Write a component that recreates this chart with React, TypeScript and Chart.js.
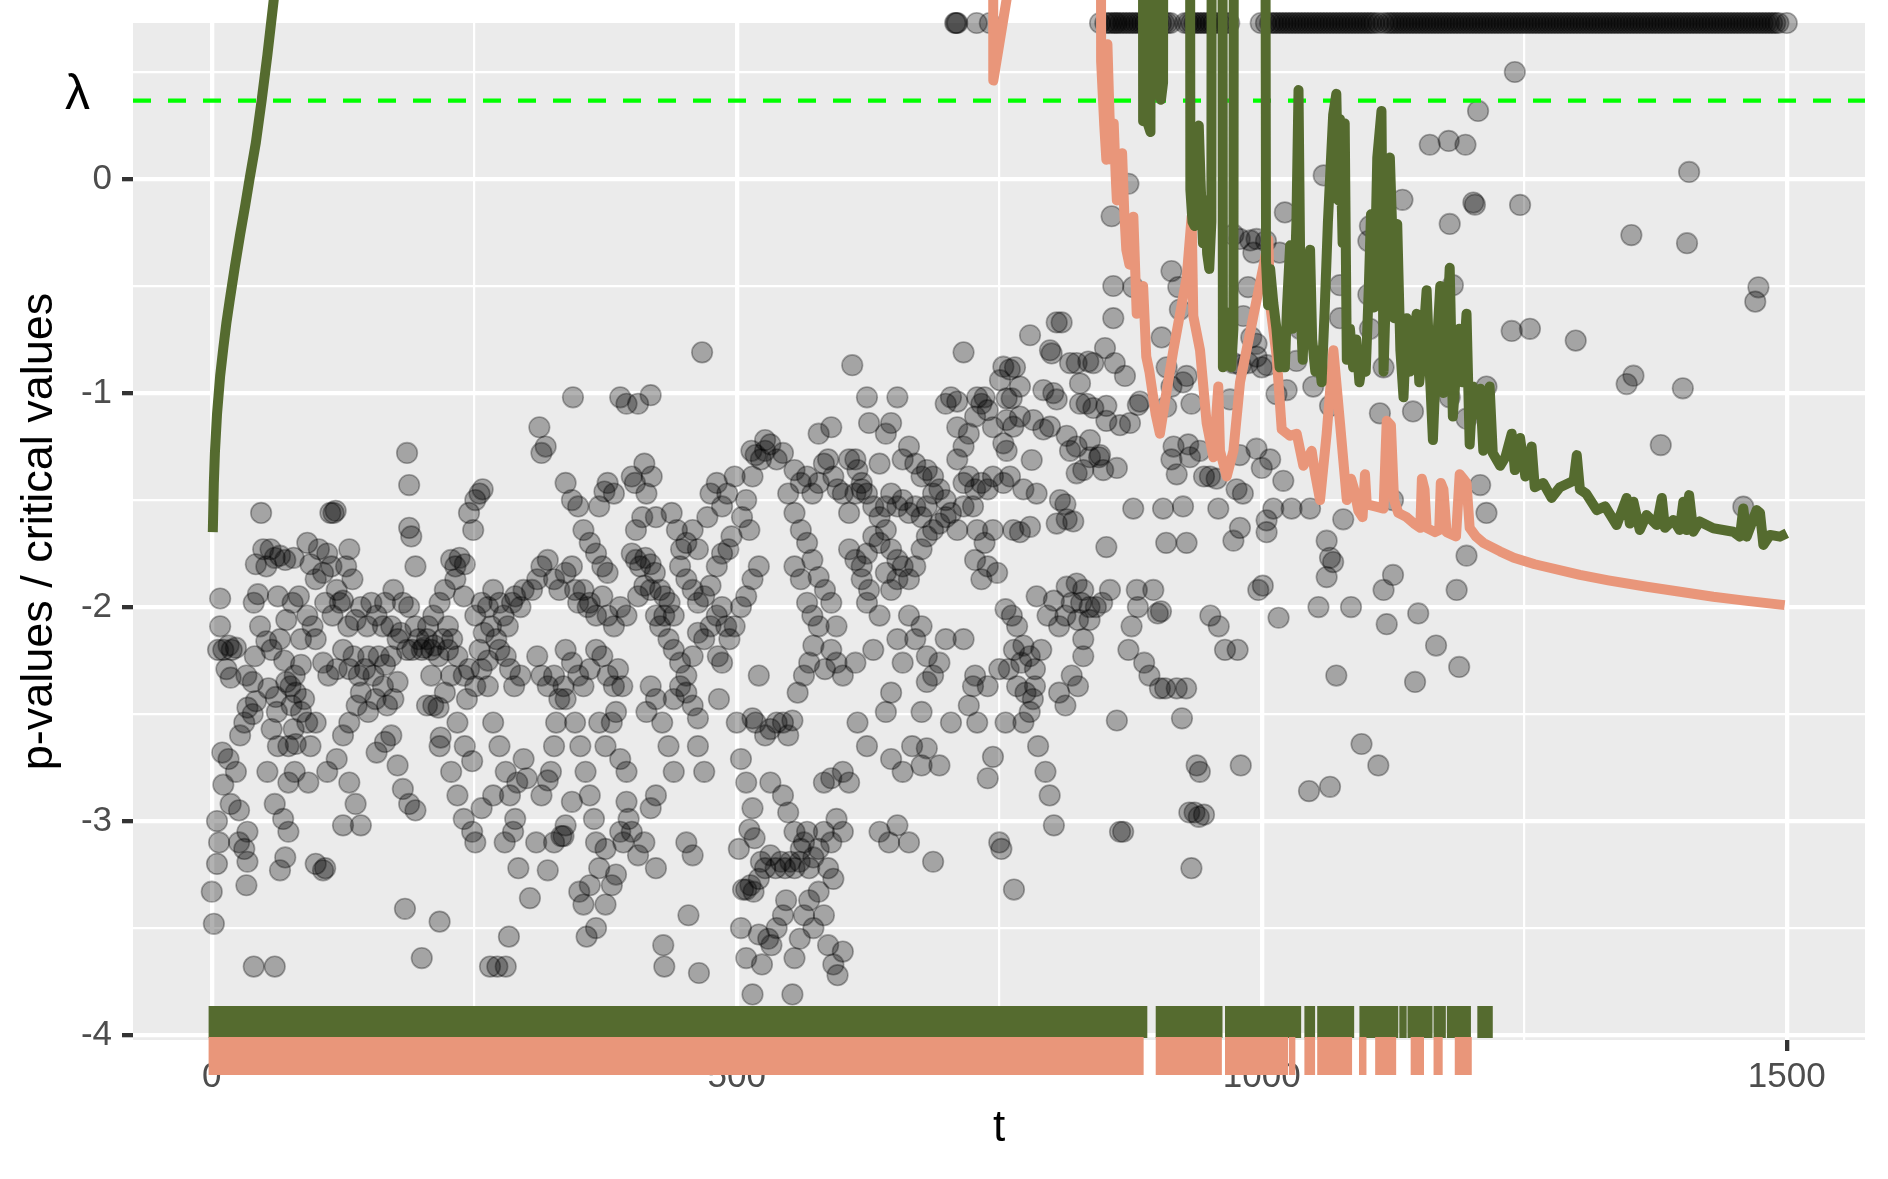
import React, { useEffect, useRef } from 'react';
import { Chart, registerables } from 'chart.js';
Chart.register(...registerables);

const W = 1888;
const H = 1179;
const FONT = '"Liberation Sans", Arial, Helvetica, sans-serif';

// axes
const X_MIN = -75;
const X_MAX = 1574.5;
const Y_MIN = -4.023;
const Y_MAX = 0.729;
const xTickValues = [0, 250, 500, 750, 1000, 1250, 1500];
const xTickLabels = [0, 500, 1000, 1500];
const yTickValues = [-4, -3.5, -3, -2.5, -2, -1.5, -1, -0.5, 0, 0.5];
const yTickLabels = [-4, -3, -2, -1, 0];
const lambdaLevel = 0.366;
const topLevel = 0.729; // p-values drawn on the upper edge

// p-values (t, value)
const pointsA: [number, number][] = [
  [0,-3.33],[2,-3.48],[5,-3.2],[7,-3.1],[5,-3.0],[11,-2.83],[10,-2.68],[16,-2.71],[8,-2.09],[6,-2.2],[8,-1.96],[11,-2.2],[16,-2.18],[19,-2.2],[23,-2.19],[14,-2.29],[18,-2.33],[23,-2.77],[18,-2.92],[26,-2.95],[26,-3.1],[31,-3.13],[34,-3.05],[33,-3.3],[34,-3.19],[40,-3.68],[60,-3.68],[27,-2.6],[31,-2.54],[34,-2.47],[39,-2.5],[33,-2.32],[39,-2.35],[41,-2.23],[40,-1.98],[44,-1.94],[47,-1.56],[49,-1.73],[42,-1.8],[52,-1.81],[56,-1.73],[60,-1.77],[46,-2.09],[52,-2.16],[57,-2.2],[54,-2.38],[61,-2.42],[57,-2.57],[63,-2.65],[60,-2.92],[53,-2.77],[42,-2.44],[65,-3.23],[70,-3.17],[73,-3.05],[73,-2.82],[79,-2.77],[73,-2.65],[78,-2.57],[76,-2.46],[71,-2.35],[69,-2.25],[75,-2.37],[79,-2.32],[85,-2.27],[88,-2.43],[80,-2.4],[85,-2.49],[91,-2.54],[65,-2.15],[71,-2.06],[77,-1.98],[83,-1.95],[91,-1.7],[94,-1.8],[99,-1.87],[91,-2.04],[96,-2.09],[99,-2.15],[85,-2.15],[78,-1.77],[65,-1.76],[70,-1.78],[63,-1.95],[92,-2.82],[94,-2.65],[99,-2.54],[99,-3.2],[108,-3.22],[68,-2.99],[62,-2.49],[80,-2.64],
  [113,-1.56],[116,-1.56],[118,-1.55],[102,-1.73],[106,-1.84],[110,-1.75],[114,-1.81],[119,-1.92],[125,-1.97],[128,-1.81],[131,-1.73],[134,-1.87],[108,-1.98],[115,-2.04],[122,-1.98],[130,-2.09],[137,-2.06],[142,-2.0],[148,-2.09],[106,-2.26],[111,-2.32],[119,-2.29],[125,-2.2],[131,-2.29],[135,-2.23],[140,-2.32],[146,-2.29],[149,-2.23],[154,-2.32],[159,-2.23],[165,-2.27],[171,-2.23],[142,-2.4],[149,-2.49],[156,-2.43],[163,-2.37],[167,-2.46],[173,-2.43],[177,-2.35],[138,-2.46],[131,-2.54],[125,-2.6],[119,-2.71],[110,-2.77],[131,-2.82],[137,-2.92],[142,-3.02],[125,-3.02],[106,-3.23],[163,-2.09],[171,-2.09],[177,-2.15],[157,-2.04],[152,-1.98],[165,-1.98],[173,-1.92],[182,-1.98],[188,-2.0],[194,-2.09],[197,-2.15],[191,-2.2],[186,-2.2],[180,-2.12],[200,-2.2],[188,-1.63],[190,-1.67],[194,-1.81],[186,-1.28],[188,-1.43],[177,-2.74],[182,-2.85],[188,-2.92],[194,-2.95],[184,-3.41],[200,-3.64],[217,-3.47],[165,-2.63],[171,-2.6],[157,-2.68],
  [202,-2.19],[205,-2.15],[209,-2.2],[212,-2.18],[216,-2.23],[220,-2.15],[225,-2.2],[206,-2.09],[211,-2.04],[217,-1.98],[222,-1.92],[228,-1.78],[232,-1.81],[236,-1.77],[241,-1.8],[232,-1.87],[240,-1.95],[225,-2.09],[229,-2.15],[234,-2.23],[240,-2.32],[245,-2.29],[243,-2.43],[234,-2.54],[241,-2.65],[248,-2.72],[222,-2.4],[216,-2.47],[209,-2.32],[211,-2.46],[218,-2.61],[228,-2.32],[217,-2.65],[228,-2.77],[234,-2.88],[240,-2.99],[248,-3.05],[205,-2.46],[245,-1.56],[249,-1.64]
];

const pointsB: [number, number][] = [
  [251,-2.37],[255,-2.2],[259,-2.12],[251,-2.04],[257,-1.98],[263,-2.0],[266,-2.09],[271,-2.15],[255,-1.47],[258,-1.45],[251,-1.5],[268,-1.92],[274,-1.98],[278,-2.04],[282,-2.09],[286,-1.98],[289,-1.95],[294,-2.0],[297,-1.92],[274,-2.2],[280,-2.23],[284,-2.29],[288,-2.37],[294,-2.32],[263,-2.37],[268,-2.54],[274,-2.65],[280,-2.77],[284,-2.88],[289,-2.99],[279,-3.1],[287,-3.05],[292,-3.22],[268,-2.88],[265,-3.68],[272,-3.68],[280,-3.68],[283,-3.54],[297,-2.71],[300,-2.8],[291,-2.82],[251,-3.1],[257,-2.94],[257,-2.29],[263,-2.25],
  [303,-3.36],[309,-3.1],[314,-2.88],[320,-2.81],[323,-2.77],[326,-2.65],[328,-2.54],[331,-2.43],[335,-2.37],[310,-2.23],[314,-2.32],[320,-2.37],[326,-2.32],[305,-1.92],[310,-1.87],[314,-1.81],[320,-1.78],[326,-1.87],[331,-1.92],[337,-1.84],[343,-1.81],[346,-1.92],[349,-1.98],[354,-1.92],[358,-2.0],[312,-1.16],[314,-1.28],[318,-1.25],[344,-1.02],[337,-1.42],[343,-1.5],[349,-1.53],[354,-1.64],[360,-1.7],[366,-1.75],[372,-1.81],[377,-1.84],[369,-1.53],[374,-1.46],[377,-1.42],[383,-1.47],[389,-1.02],[395,-1.05],[400,-1.39],[360,-1.98],[366,-2.04],[372,-1.95],[377,-2.04],[383,-2.09],[389,-2.0],[395,-2.04],[337,-2.2],[343,-2.26],[349,-2.32],[354,-2.37],[360,-2.29],[366,-2.2],[372,-2.23],[369,-2.54],[375,-2.65],[381,-2.54],[385,-2.49],[389,-2.71],[395,-2.77],[337,-2.43],[346,-2.54],[351,-2.65],[356,-2.77],[360,-2.88],[364,-2.99],[366,-3.1],[369,-3.22],[375,-3.13],[381,-3.3],[385,-3.25],[360,-3.3],[354,-3.39],[350,-3.33],[357,-3.54],[366,-3.5],[375,-3.39],[335,-3.07],[333,-3.07],[337,-3.02],[343,-2.91],[326,-3.1],[320,-3.23],[389,-3.05],[395,-2.91],[397,-2.99],[392,-3.1],[377,-2.32],[383,-2.37],[387,-2.29],[391,-2.37],
  [400,-1.75],[404,-1.78],[408,-1.81],[413,-1.77],[418,-1.8],[422,-1.84],[427,-1.92],[431,-1.95],[436,-1.98],[440,-2.04],[418,-1.92],[412,-1.9],[406,-1.95],[423,-2.04],[427,-2.09],[431,-2.04],[435,-2.15],[404,-1.64],[410,-1.58],[414,-1.47],[419,-1.39],[412,-1.33],[406,-1.05],[418,-1.01],[403,-1.42],[423,-1.58],[438,-1.56],[443,-1.64],[447,-1.73],[452,-1.7],[458,-1.64],[463,-1.73],[446,-1.81],[452,-1.87],[458,-1.92],[463,-1.98],[469,-1.95],[475,-1.9],[481,-1.81],[486,-1.75],[492,-1.73],[495,-1.67],[467,-0.81],[475,-1.47],[481,-1.42],[486,-1.53],[491,-1.47],[498,-1.39],[472,-1.58],[440,-2.2],[446,-2.26],[452,-2.32],[458,-2.23],[463,-2.12],[469,-2.15],[475,-2.09],[481,-2.04],[486,-2.0],[490,-2.09],[493,-2.15],[498,-2.09],[440,-2.43],[446,-2.37],[452,-2.4],[458,-2.46],[463,-2.52],[423,-2.43],[418,-2.37],[414,-2.49],[429,-2.54],[435,-2.65],[440,-2.77],[483,-2.43],[486,-2.26],[482,-2.23],[418,-2.94],[423,-2.88],[452,-3.1],[458,-3.16],[454,-3.44],[430,-3.58],[431,-3.68],[464,-3.71],[423,-3.22],[412,-3.1],[406,-3.16],[400,-3.05],[463,-2.65],[469,-2.77]
];

const pointsC: [number, number][] = [
  [502,-3.13],[506,-3.32],[509,-3.32],[513,-3.3],[516,-3.33],[521,-3.27],[504,-3.5],[509,-3.64],[515,-3.81],[521,-3.53],[524,-3.67],[530,-3.55],[533,-3.58],[538,-3.5],[544,-3.44],[547,-3.37],[553,-3.81],[555,-3.64],[560,-3.55],[564,-3.44],[569,-3.37],[573,-3.5],[578,-3.33],[583,-3.44],[587,-3.58],[592,-3.67],[596,-3.72],[601,-3.61],[512,-3.04],[517,-3.08],[523,-3.19],[527,-3.22],[532,-3.16],[537,-3.22],[542,-3.19],[546,-3.22],[551,-3.19],[555,-3.22],[560,-3.19],[564,-3.1],[569,-3.22],[573,-3.17],[578,-3.13],[583,-3.05],[587,-3.22],[592,-3.27],[590,-3.1],[595,-2.99],[601,-3.05],[518,-2.54],[515,-2.52],[521,-2.32],[527,-2.6],[532,-2.57],[538,-2.54],[544,-2.54],[549,-2.6],[553,-2.53],[558,-2.4],[564,-2.32],[569,-2.26],[573,-2.18],[578,-2.09],[584,-2.29],[590,-2.2],[595,-2.26],[601,-2.32],[613,-2.26],[583,-2.82],[590,-2.8],[601,-2.77],[607,-2.82],[615,-2.54],[504,-2.0],[509,-1.95],[515,-1.87],[521,-1.81],[512,-1.64],[505,-1.58],[509,-1.5],[515,-1.39],[518,-1.29],[514,-1.27],[523,-1.31],[527,-1.27],[532,-1.24],[527,-1.22],[538,-1.31],[544,-1.28],[549,-1.47],[555,-1.56],[561,-1.64],[567,-1.7],[572,-1.78],[578,-1.86],[584,-1.92],[590,-1.98],[595,-2.09],[555,-1.81],[561,-1.87],[567,-1.98],[572,-2.04],[555,-1.36],[561,-1.42],[567,-1.39],[572,-1.47],[578,-1.42],[583,-1.33],[587,-1.31],[592,-1.39],[596,-1.45],[601,-1.47],[578,-1.19],[590,-1.16],[607,-1.31],[610,-0.87],[615,-1.36],[619,-1.45],[624,-1.02],[626,-1.14],[504,-2.71],[509,-2.82],[515,-2.94],[500,-2.54],[532,-2.82],[544,-2.88],[549,-2.96],[555,-3.05],[561,-3.13],[567,-3.05],[624,-2.65],[636,-3.05],[645,-3.1],
  [607,-1.56],[613,-1.47],[619,-1.42],[624,-1.47],[630,-1.53],[636,-1.58],[642,-1.53],[647,-1.47],[653,-1.53],[658,-1.5],[664,-1.56],[670,-1.53],[676,-1.58],[681,-1.53],[687,-1.47],[693,-1.45],[699,-1.5],[607,-1.73],[613,-1.78],[619,-1.81],[624,-1.75],[630,-1.67],[636,-1.7],[642,-1.64],[647,-1.73],[653,-1.78],[658,-1.81],[664,-1.87],[670,-1.81],[676,-1.73],[681,-1.67],[687,-1.64],[693,-1.61],[699,-1.58],[619,-1.87],[626,-1.92],[642,-1.84],[647,-1.92],[653,-1.87],[613,-1.31],[636,-1.33],[642,-1.19],[647,-1.14],[653,-1.02],[658,-1.31],[664,-1.25],[670,-1.33],[676,-1.39],[681,-1.36],[687,-1.39],[699,-1.05],[704,-1.02],[710,-1.04],[716,-0.81],[710,-1.16],[670,-2.15],[664,-2.04],[676,-2.09],[681,-2.23],[687,-2.32],[693,-2.26],[699,-2.15],[658,-2.26],[653,-2.15],[647,-2.4],[642,-2.49],[676,-2.49],[681,-2.35],[667,-2.65],[676,-2.74],[647,-2.71],[658,-2.77],[653,-3.02],[664,-3.1],[687,-3.19],[681,-2.66],[704,-2.54],[693,-2.74],[624,-1.98],[636,-2.04],[630,-2.2],
  [710,-1.31],[716,-1.25],[721,-1.19],[727,-1.11],[733,-1.05],[729,-1.02],[736,-1.02],[739,-1.08],[744,-1.16],[716,-1.42],[721,-1.39],[727,-1.45],[733,-1.42],[739,-1.45],[744,-1.39],[704,-1.56],[710,-1.64],[716,-1.53],[725,-1.53],[729,-1.64],[736,-1.7],[744,-1.64],[727,-1.78],[733,-1.87],[739,-1.81],[748,-1.84],[739,-2.37],[725,-2.37],[721,-2.46],[739,-2.8],[744,-2.7],[716,-2.15],[727,-2.32],[729,-2.54]
];

const pointsD: [number, number][] = [
  [756,-2.01],[762,-2.04],[767,-2.09],[773,-2.18],[779,-2.23],[784,-2.29],[764,-2.2],[771,-2.26],[759,-2.29],[767,-2.37],[775,-2.4],[782,-2.43],[773,-2.54],[779,-2.49],[787,-2.65],[794,-2.77],[798,-2.88],[802,-3.02],[750,-2.29],[750,-3.1],[752,-3.13],[764,-3.32],[756,-2.54],[784,-2.37],[790,-2.2],[796,-2.04],[802,-1.97],
  [807,-2.09],[813,-2.04],[819,-1.98],[825,-2.06],[830,-2.15],[836,-2.06],[807,-2.4],[813,-2.46],[819,-2.32],[825,-2.37],[830,-2.23],[836,-2.0],[842,-2.0],[848,-1.98],[862,-2.53],[865,-3.05],[868,-3.05],[901,-2.03],[904,-2.02],[903,-2.38],[908,-2.38],[876,-2.09],[882,-2.0],[873,-2.2],[888,-2.26],[893,-2.32],[828,-1.98],
  [977,-2.2],[965,-2.2],[931,-2.96],[936,-2.96],[940,-2.98],[945,-2.97],[933,-3.22],[938,-2.74],[941,-2.77],[980,-2.74],[924,-2.52],[919,-2.38],[928,-2.38],[951,-2.04],[959,-2.09],
  [1016,-2.05],[1045,-2.86],[1065,-2.84],[1071,-2.32],[1054,-2.0],[1085,-2.0],[1095,-2.64],[1111,-2.74],[1119,-2.08],[1146,-2.35],[1149,-2.03],[1166,-2.18],[1188,-2.28],
  [804.7,-0.67],[809.4,-0.67],[779.3,-0.73],[798.3,-0.8],[799.9,-0.815],[817.4,-0.86],[823.7,-0.86],[834.8,-0.853],[839.6,-0.86],[753.9,-0.877],[760,-0.89],[765,-0.88],[750.7,-0.94],[769.7,-0.97],[757,-1.025],[761.8,-1.025],[792,-0.986],[801.5,-1.0],[804.7,-1.03],[826.9,-0.955],[833.2,-1.05],[826.9,-1.05],[839.6,-1.07],[757,-1.126],[763.4,-1.157],[769.7,-1.11],[782.4,-1.126],[792,-1.17],[798.3,-1.157],[814.2,-1.2],[823.7,-1.25],[836.4,-1.22],[757,-1.27],[753.9,-1.235],[780.9,-1.313],[817.4,-1.27],[830,-1.36],[823.7,-1.375],[836.4,-1.3],[845,-1.3],[760.2,-1.39],[753.9,-1.42],[773,-1.45],[785.6,-1.47],[807.8,-1.5],[813,-1.52],[763.4,-1.64],[769.7,-1.65],[779.3,-1.625],[804.7,-1.61],[814.2,-1.59],[820.5,-1.6],[814.2,-1.905],[823.7,-1.89],[785.6,-1.95],[830,-1.92],
  [1206,0.318],[1160,0.16],[1178,0.178],[1194,0.16],[1201.5,-0.11],[1203,-0.12],[1134,-0.097],[1059,0.017],[1179,-0.21],[1103,-0.22],[1101.5,-0.29],[873,-0.022],[857,-0.174],[1022,-0.156],[989,-0.287],[979,-0.28],[995,-0.28],[1004,-0.29],[973,-0.26],[992,-0.344],[1017,-0.344],[914,-0.43],[858.6,-0.5],[877.6,-0.505],[920.5,-0.505],[987,-0.505],[1074.5,-0.496],[1101.5,-0.54],[1182,-0.496],[858.6,-0.65],[904.6,-0.74],[922,-0.61],[982.4,-0.64],[990,-0.74],[995,-0.77],[1074.5,-0.65],[1103,-0.7],[1036.4,-0.7],[850.7,-0.79],[860,-0.86],[869.7,-0.92],[909.4,-0.88],[928.4,-0.92],[914,-0.97],[925,-0.95],[995,-0.83],[973,-0.86],[980,-0.87],[987,-0.86],[1000,-0.88],[1005,-0.87],[1014,-1.005],[1033,-0.85],[1049,-0.97],[1065,-1.06],[1112.5,-1.095],[1116,-0.88],[1144,-1.086],[1179,-1.02],[1204.6,-1.02],[1195,-1.12],[1214,-0.97],[852,-1.06],[884,-1.04],[852,-1.13],[865,-1.15],[874.5,-1.14],[846,-1.29],[862,-1.35],[849,-1.36],[916,-1.25],[914,-1.31],[919,-1.38],[930,-1.24],[931.6,-1.3],[941,-1.27],[945,-1.39],[950.6,-1.39],[957,-1.4],[976,-1.45],[982,-1.47],[979,-1.29],[995,-1.26],[1008,-1.31],[1000,-1.35],[1020.5,-1.41],[1011,-1.54],[1028.4,-1.54],[1046,-1.54],[1077.6,-1.59],[1004.6,-1.595],[1004.6,-1.65],[1061.8,-1.69],[1068,-1.79],[1065,-1.77],[1061.8,-1.86],[1125,-1.5],[1208,-1.43],[1214,-1.56],[1195,-1.76],[1185.6,-1.92],[1125,-1.85],[1116,-1.92],[996.7,-1.92],[1001,-1.9],[909,-1.7],[928.4,-1.7],[877.6,-1.54],[906,-1.54],[925,-1.53],[958.6,-1.54],[979.2,-1.63],[973,-1.69],[852,-1.72],[881,-1.92],[896.7,-1.92],[855.4,-1.92],
  [933,-1.05],[882,-1.056],[909,-1.064],[969.8,-1.03],[1023.7,-0.986]
];

const pointsE: [number, number][] = [
  [1246,-0.121],[1352,-0.262],[1405,-0.3],[1473,-0.506],[1470,-0.573],[1238,-0.71],[1255.4,-0.7],[1299,-0.755],[1354,-0.919],[1347.5,-0.958],[1401,-0.978],[1380,-1.243],[1458.6,-1.531],[1241,0.5],[1407,0.033]
];

// t of p-values shown on the upper edge
const topRowT: number[] = [
  708,709,710,728.5,741,846,851,854,857,860,862,865,868,871,874,877,880,883,886,889,892,895,898,901,904,907,910,913,
  927,930,933,936,939,942,945,948,951,954,957,960,963,966,969,
  999,1004,1008,1011,1014,1017,1020,1023,1026,1029,1032,1035,1038,1041,1044,1047,1050,1053,1056,1059,1062,1065,1068,1071,1074,1077,1080,1083,1086,1089,1092,1095,1098,1101,1104,1107,1111,1116,1120,1123,1126,1129,1132,1135,1138,1141,1144,1147,1150,1153,1156,1159,1162,1165,1168,1171,1174,1177,1180,1183,1186,1189,1192,1195,1198,1201,1204,1207,1210,1213,1216,1219,1222,1225,1228,1231,1234,1237,1240,1243,1246,1249,1252,1255,1258,1261,1264,1267,1270,1273,1276,1279,1282,1285,1288,1291,1294,1297,1300,1303,1306,1309,1312,1315,1318,1321,1324,1327,1330,1333,1336,1339,1342,1345,1348,1351,1354,1357,1360,1363,1366,1369,1372,1375,1378,1381,1384,1387,1390,1393,1396,1399,1402,1405,1408,1411,1414,1417,1420,1423,1426,1429,1432,1435,1438,1441,1444,1447,1450,1453,1456,1459,1462,1465,1468,1471,1474,1477,1480,1483,1486,1489,1492,1500
];

// critical value curves (t, value); 10 = far above the panel
const greenCurve: [number, number][] = [
  [1,-1.65],[2,-1.42],[3,-1.28],[5,-1.1],[8,-0.92],[11,-0.79],[14,-0.67],[17,-0.57],[22,-0.41],[27,-0.26],[32,-0.12],[36,0.0],[42,0.17],[47.5,0.367],[53,0.58],[59,0.836],[65,1.1],[75,1.6],[100,3],[130,10],[880,10],
  [886,10],[887,0.27],[889,0.3],[890,0.43],[892,0.25],[894,0.22],[896,10],[900,10],[902,0.4],[904,0.37],[906,0.45],[908,10],[930,10],
  [932,-0.05],[934,-0.2],[936,-0.22],[938,-0.1],[940,0.25],[942,-0.05],[944,-0.3],[946,-0.1],[948,-0.35],[950,-0.42],[952,-0.2],[954,10],[961,10],
  [963,-0.88],[965,-0.62],[967,-0.8],[969,-0.65],[971,-0.88],[973,-0.7],[975,10],[1001,10],
  [1004,-0.38],[1006,-0.59],[1008,-0.42],[1011,-0.58],[1014,-0.7],[1017,-0.88],[1020,-0.75],[1022,-0.88],[1024,-0.6],[1027,-0.31],[1029,-0.7],[1031,-0.55],[1033,-0.2],[1035,0.416],[1037,-0.6],[1039,-0.845],[1041,-0.55],[1044,-0.7],[1046,-0.33],[1048,-0.75],[1051,-0.9],[1054,-0.8],[1057,-0.95],[1060,-0.6],[1063,-0.2],[1066,0.1],[1068,0.3],[1071,0.398],[1073,-0.1],[1074.5,0.28],[1077,-0.3],[1079,0.26],[1081,-0.845],[1084,-0.7],[1087,-0.88],[1090,-0.75],[1093,-0.95],[1096,-0.85],[1099,-0.9],[1102,-0.5],[1104,-0.165],[1107,-0.6],[1110,0.1],[1114,0.318],[1116,-0.9],[1119,-0.4],[1122,0.1],[1124,-0.2],[1126,-0.65],[1129,-0.21],[1132,-0.8],[1135,-1.02],[1138,-0.65],[1141,-0.9],[1144,-0.75],[1147.5,-0.63],[1150,-0.95],[1153,-0.8],[1157,-0.52],[1160,-0.9],[1163,-1.22],[1166,-0.85],[1170,-0.5],[1173,-1.0],[1176,-0.75],[1179,-0.415],[1182,-1.11],[1185,-0.9],[1188,-0.7],[1191,-0.95],[1195,-0.63],[1198,-1.24],[1201,-0.97],[1204,-1.1],[1208,-0.98],[1211,-1.27],[1214,-1.25],[1217,-0.97],[1220,-1.28],[1227,-1.34],
  [1232,-1.3],[1238,-1.19],[1241,-1.36],[1246,-1.21],[1251,-1.39],[1257,-1.25],[1260,-1.44],[1268,-1.42],[1276,-1.49],[1284,-1.44],[1297,-1.41],[1300,-1.29],[1303,-1.45],[1309,-1.47],[1319,-1.547],[1327,-1.53],[1338,-1.617],[1347.5,-1.49],[1350.5,-1.61],[1354,-1.508],[1360,-1.64],[1366.5,-1.57],[1376,-1.617],[1381,-1.49],[1384,-1.63],[1392,-1.593],[1398,-1.64],[1401.5,-1.508],[1404.5,-1.64],[1407,-1.477],[1411,-1.648],[1417,-1.6],[1430,-1.632],[1449,-1.648],[1455.4,-1.671],[1458.6,-1.539],[1461.8,-1.671],[1471.3,-1.547],[1474.5,-1.56],[1477.7,-1.71],[1484,-1.663],[1493.5,-1.671],[1500,-1.655]
];

const salmonCurve: [number, number][] = [
  [730,10],[743,10],[744.3,0.46],[750,0.63],[757,0.84],[765,1.5],[790,10],[845,10],
  [847,0.55],[850,0.25],[852,0.09],[853,0.63],[855,0.3],[857,0.09],[859,0.26],[861,0.0],[862,-0.1],[867,0.12],[869,-0.15],[871,-0.33],[874,-0.4],[877.7,-0.176],[880.9,-0.63],[884,-0.55],[887,-0.5],[890,-0.83],[893,-0.9],[896,-1.0],[899,-1.1],[903,-1.19],
  [909.4,-0.99],[915.8,-0.8],[928.5,-0.46],[933.2,-0.176],[934.8,-0.64],[941.2,-0.8],[947.5,-1.14],[953.9,-1.3],[958.6,-0.97],[960.2,-1.27],[966.6,-1.39],[973,-1.27],[979.3,-0.95],[992,-0.64],[1001.5,-0.41],[1006.3,-0.285],[1007.8,-0.58],[1014.2,-0.83],[1019,-1.17],[1026.9,-1.2],[1033.3,-1.19],[1039.6,-1.34],[1047.5,-1.27],[1050.7,-1.375],[1055.5,-1.5],[1061.8,-1.19],[1068.2,-0.8],[1074.5,-1.14],[1081,-1.5],
  [1085,-1.4],[1088,-1.45],[1092,-1.55],[1096,-1.58],[1098.3,-1.38],[1100,-1.52],[1108,-1.53],[1116,-1.54],[1119,-1.13],[1123,-1.15],[1126,-1.5],[1130,-1.56],[1138,-1.58],[1145,-1.61],[1151,-1.63],[1152.5,-1.4],[1155,-1.45],[1157,-1.63],[1165,-1.65],[1169,-1.64],[1170.5,-1.42],[1173,-1.45],[1176,-1.65],[1185,-1.67],[1188.5,-1.38],[1192,-1.4],[1195,-1.42],[1198,-1.63],[1204,-1.67],[1211,-1.7],[1227,-1.74],[1240,-1.77],[1260,-1.8],[1303,-1.85],[1330,-1.875],[1366.6,-1.905],[1400,-1.93],[1430,-1.952],[1460,-1.97],[1498,-1.991]
];

// rejection rugs: runs of t (start, end)
const greenRug: [number, number][] = [
  [-3,891],[899,962.6],[965,1037.5],[1040.6,1050.8],[1052.8,1088],[1093,1130],[1131,1138],[1138.8,1162.6],[1163.6,1175.3],[1176.3,1199.2],[1205.3,1220]
];
const salmonRug: [number, number][] = [
  [-3,887.5],[899,962],[965,1025],[1025.8,1032],[1040.6,1050.8],[1052.8,1086],[1092.6,1099.7],[1108,1128],[1141.8,1154.5],[1163.6,1172.3],[1183.8,1200]
];

const GREEN = '#556B2F';
const SALMON = '#E9967A';
const GREEN_RUG_Y = -3.939;
const SALMON_RUG_Y = -4.098;

const toXY = (arr: [number, number][]) => arr.map(([x, y]) => ({ x, y }));
const rugXY = (runs: [number, number][], level: number) =>
  runs.flatMap(([a, b]) => [{ x: a, y: level }, { x: b, y: level }, { x: b, y: null as any }]);

const panelBg = {
  id: 'panelBg',
  beforeDraw(chart: any) {
    const { ctx, chartArea } = chart;
    ctx.save();
    ctx.fillStyle = '#FFFFFF';
    ctx.fillRect(0, 0, chart.width, chart.height);
    ctx.fillStyle = '#EBEBEB';
    ctx.fillRect(chartArea.left, chartArea.top, chartArea.right - chartArea.left, chartArea.bottom - chartArea.top);
    ctx.restore();
  },
};

const lambdaLabel = {
  id: 'lambdaLabel',
  afterDraw(chart: any) {
    const { ctx, chartArea } = chart;
    const y = chart.scales.y.getPixelForValue(lambdaLevel);
    ctx.save();
    ctx.fillStyle = '#000000';
    ctx.font = `50px ${FONT}`;
    ctx.textAlign = 'center';
    ctx.textBaseline = 'alphabetic';
    ctx.fillText('λ', chartArea.left - 55.5, y + 8);
    ctx.restore();
  },
};

export default function App() {
  const ref = useRef<HTMLCanvasElement | null>(null);

  useEffect(() => {
    if (!ref.current) return;
    const allPoints = [...pointsA, ...pointsB, ...pointsC, ...pointsD, ...pointsE];
    const topPoints = topRowT.map((t) => ({ x: t, y: topLevel }));

    const chart = new Chart(ref.current, {
      type: 'scatter',
      data: {
        datasets: [
          {
            type: 'line',
            data: rugXY(salmonRug, SALMON_RUG_Y),
            borderColor: SALMON,
            borderWidth: 38,
            borderCapStyle: 'butt',
            pointRadius: 0,
            spanGaps: false,
            clip: false,
            order: 0,
          } as any,
          {
            type: 'line',
            data: rugXY(greenRug, GREEN_RUG_Y),
            borderColor: GREEN,
            borderWidth: 32,
            borderCapStyle: 'butt',
            pointRadius: 0,
            spanGaps: false,
            clip: false,
            order: 1,
          } as any,
          {
            type: 'line',
            data: toXY(greenCurve),
            borderColor: GREEN,
            borderWidth: 10,
            borderJoinStyle: 'round',
            pointRadius: 0,
            tension: 0,
            clip: false,
            order: 2,
          } as any,
          {
            type: 'line',
            data: toXY(salmonCurve),
            borderColor: SALMON,
            borderWidth: 10,
            borderJoinStyle: 'round',
            pointRadius: 0,
            tension: 0,
            clip: false,
            order: 3,
          } as any,
          {
            type: 'line',
            data: [{ x: X_MIN, y: lambdaLevel }, { x: X_MAX, y: lambdaLevel }],
            borderColor: '#00FF00',
            borderWidth: 4.3,
            borderDash: [18, 17],
            pointRadius: 0,
            clip: false,
            order: 4,
          } as any,
          {
            type: 'scatter',
            data: [...allPoints.map(([x, y]) => ({ x, y })), ...topPoints],
            backgroundColor: 'rgba(0,0,0,0.3)',
            borderColor: 'rgba(0,0,0,0.32)',
            borderWidth: 1.6,
            pointRadius: 10.3,
            pointHoverRadius: 10.3,
            clip: false,
            order: 5,
          } as any,
        ],
      },
      options: {
        responsive: false,
        animation: false,
        devicePixelRatio: 1,
        events: [],
        layout: { padding: { top: 23, right: 23, left: 0, bottom: 0 } },
        plugins: { legend: { display: false }, tooltip: { enabled: false } },
        scales: {
          x: {
            type: 'linear',
            min: X_MIN,
            max: X_MAX,
            afterBuildTicks: (s: any) => {
              s.ticks = xTickValues.map((v) => ({ value: v }));
            },
            afterFit: (s: any) => {
              s.height = 139;
              s.paddingLeft = 0;
              s.paddingRight = 0;
            },
            border: { display: false },
            grid: {
              color: '#FFFFFF',
              lineWidth: (c: any) => (xTickLabels.includes(c.tick?.value) ? 4.3 : 2.2),
              tickColor: (c: any) => (xTickLabels.includes(c.tick?.value) ? '#333333' : 'rgba(0,0,0,0)'),
              tickLength: 11,
              tickWidth: 4.3,
              drawTicks: true,
            },
            ticks: {
              autoSkip: false,
              maxRotation: 0,
              padding: 5,
              color: '#4D4D4D',
              font: { family: FONT, size: 35 },
              callback: (v: any) => (xTickLabels.includes(Number(v)) ? String(v) : ''),
            },
            title: {
              display: true,
              text: 't',
              color: '#000000',
              font: { family: FONT, size: 44 },
              padding: { top: 0, bottom: 24 },
            },
          },
          y: {
            type: 'linear',
            min: Y_MIN,
            max: Y_MAX,
            afterBuildTicks: (s: any) => {
              s.ticks = yTickValues.map((v) => ({ value: v }));
            },
            afterFit: (s: any) => {
              s.width = 133;
              s.paddingTop = 0;
              s.paddingBottom = 0;
            },
            border: { display: false },
            grid: {
              color: '#FFFFFF',
              lineWidth: (c: any) => (yTickLabels.includes(c.tick?.value) ? 4.3 : 2.2),
              tickColor: (c: any) => (yTickLabels.includes(c.tick?.value) ? '#333333' : 'rgba(0,0,0,0)'),
              tickLength: 11,
              tickWidth: 4.3,
              drawTicks: true,
            },
            ticks: {
              autoSkip: false,
              padding: 10,
              color: '#4D4D4D',
              font: { family: FONT, size: 35 },
              callback: (v: any) => (yTickLabels.includes(Number(v)) ? String(v) : ''),
            },
            title: {
              display: true,
              text: 'p-values / critical values',
              color: '#000000',
              font: { family: FONT, size: 45 },
              padding: { top: 13, bottom: 0 },
            },
          },
        },
      },
      plugins: [panelBg, lambdaLabel],
    } as any);

    return () => chart.destroy();
  }, []);

  return (
    <div style={{ position: 'absolute', left: 0, top: 0, width: W, height: H, background: '#FFFFFF' }}>
      <canvas ref={ref} width={W} height={H} style={{ width: W, height: H, display: 'block' }} />
    </div>
  );
}
